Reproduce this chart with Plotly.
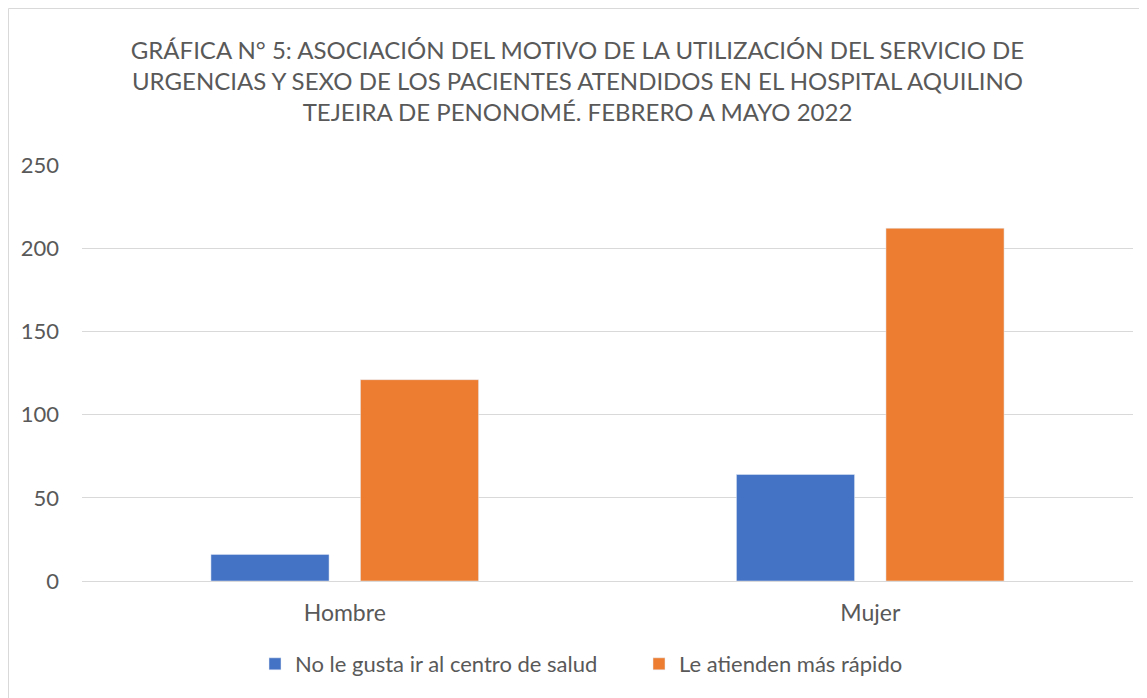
import plotly.graph_objects as go

categorias = ["Hombre", "Mujer"]
no_le_gusta = [16, 64]
atienden_rapido = [121, 212]
series_nombres = ["No le gusta ir al centro de salud", "Le atienden más rápido"]

titulo = ("GRÁFICA N° 5: ASOCIACIÓN DEL MOTIVO DE LA UTILIZACIÓN DEL SERVICIO DE<br>"
          "URGENCIAS Y SEXO DE LOS PACIENTES ATENDIDOS EN EL HOSPITAL AQUILINO<br>"
          "TEJEIRA DE PENONOMÉ. FEBRERO A MAYO 2022")

FONT = "Lato, 'Open Sans', sans-serif"
GRIS = "#595959"

# the page body adds an 8px offset, so the figure is drawn 8px smaller
W, H = 1139, 690
L, R, T, B = 74, 14, 157, 117
plot_w = W - L - R
plot_h = H - T - B

fig = go.Figure()
fig.add_trace(go.Bar(x=categorias, y=no_le_gusta, name=series_nombres[0],
                     marker=dict(color="#4472C4")))
fig.add_trace(go.Bar(x=categorias, y=atienden_rapido, name=series_nombres[1],
                     marker=dict(color="#ED7D31")))

fig.update_layout(
    width=W,
    height=H,
    margin=dict(l=L, r=R, t=T, b=B),
    paper_bgcolor="white",
    plot_bgcolor="white",
    font=dict(family=FONT, color=GRIS, size=24),
    title=dict(text=titulo, x=0.5, xanchor="center", y=1 - 51 / H, yanchor="top",
               font=dict(size=24, color=GRIS, family=FONT)),
    barmode="group",
    bargap=0.431,
    bargroupgap=0.21,
    legend=dict(orientation="h", x=(247 - L) / plot_w, xanchor="left",
                y=(H - B - 656) / plot_h, yanchor="middle",
                font=dict(size=22, color=GRIS), itemwidth=30,
                entrywidth=339, entrywidthmode="pixels"),
    showlegend=True,
)

fig.update_yaxes(range=[0, 250], dtick=50, showgrid=True, gridcolor="#D9D9D9", gridwidth=1,
                 zeroline=True, zerolinecolor="#D9D9D9", zerolinewidth=1,
                 tickfont=dict(size=22, color=GRIS), ticks="", ticklabelstandoff=22)
fig.update_xaxes(showline=False, ticks="", tickfont=dict(size=23, color=GRIS),
                 ticklabelstandoff=16)

# borde del área del gráfico
fig.add_shape(type="rect", xref="paper", yref="paper",
              x0=(0.5 - L) / plot_w, x1=(W + 5 - L) / plot_w,
              y0=(H - B - H - 5) / plot_h, y1=(H - B - 0.5) / plot_h,
              line=dict(color="#D9D9D9", width=1), fillcolor="rgba(0,0,0,0)", layer="below")

fig.write_html("out.html")
